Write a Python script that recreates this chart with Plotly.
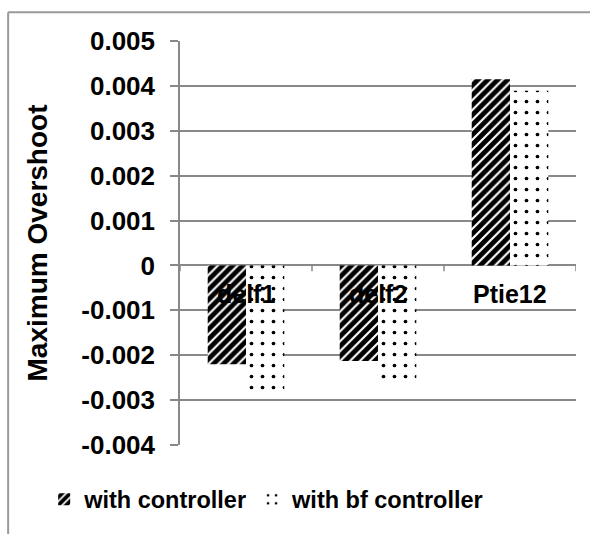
import plotly.graph_objects as go

categories = ["delf1", "delf2", "Ptie12"]
with_controller = [-0.0022, -0.00213, 0.00415]
with_bf_controller = [-0.0029, -0.00265, 0.00389]
tick_vals = [0.005, 0.004, 0.003, 0.002, 0.001, 0, -0.001, -0.002, -0.003, -0.004]
tick_text = ["0.005", "0.004", "0.003", "0.002", "0.001", "0", "-0.001", "-0.002", "-0.003", "-0.004"]

FONT = "Liberation Sans, Arial, sans-serif"

fig = go.Figure()
fig.add_trace(go.Bar(
    x=categories, y=with_controller, name="with controller",
    marker=dict(color="white", line=dict(width=0),
                pattern=dict(shape="/", fgcolor="black", bgcolor="white", size=7, solidity=0.7,
                             fgopacity=1)),
))
fig.add_trace(go.Bar(
    x=categories, y=with_bf_controller, name="with bf controller",
    marker=dict(color="white", line=dict(width=0),
                pattern=dict(shape=".", fgcolor="black", bgcolor="white", size=11, solidity=0.09,
                             fgopacity=1)),
))

for c in categories:
    fig.add_annotation(x=c, y=0, xref="x", yref="y", text=c,
                       showarrow=False, yanchor="top", yshift=-13,
                       font=dict(family=FONT, size=25, color="black", weight="bold"))

# frame
fig.add_shape(type="line", xref="paper", yref="paper", x0=-0.434, x1=1.05, y0=1.0714, y1=1.0714,
              line=dict(color="#999", width=2))
fig.add_shape(type="line", xref="paper", yref="paper", x0=-0.434, x1=-0.434, y0=1.0714, y1=-0.3,
              line=dict(color="#999", width=2))
# zero line ticks
for xv in [-0.5, 0.5, 1.5, 2.5]:
    fig.add_shape(type="line", xref="x", yref="y", x0=xv, x1=xv, y0=0, y1=-0.00013,
                  line=dict(color="#888", width=1.5))

fig.update_layout(
    width=590, height=534,
    margin=dict(l=180, r=14, t=41, b=87),
    paper_bgcolor="white", plot_bgcolor="white",
    barmode="group", bargap=0.42, bargroupgap=0,
    font=dict(family=FONT, color="black"),
    showlegend=True,
    legend=dict(orientation="h", x=-0.343, xanchor="left", y=-0.135, yanchor="middle",
                font=dict(family=FONT, size=23.5, color="black", weight="bold"),
                itemwidth=30, tracegroupgap=0),
    xaxis=dict(showticklabels=False, showgrid=False, zeroline=False, showline=False,
               range=[-0.5, 2.5]),
    yaxis=dict(range=[-0.004, 0.005], tickvals=tick_vals, ticktext=tick_text,
               tickfont=dict(family=FONT, size=26, color="black", weight="bold"),
               ticklabelstandoff=10,
               showgrid=True, gridcolor="#888", gridwidth=1.5,
               zeroline=True, zerolinecolor="#888", zerolinewidth=1.5,
               showline=True, linecolor="#888", linewidth=1.5,
               ticks="outside", ticklen=8, tickcolor="#888", tickwidth=1.5,
               title=dict(text="Maximum Overshoot",
                          font=dict(family=FONT, size=28, color="black", weight="bold"),
                          standoff=26)),
)
fig.write_html("out.html")
